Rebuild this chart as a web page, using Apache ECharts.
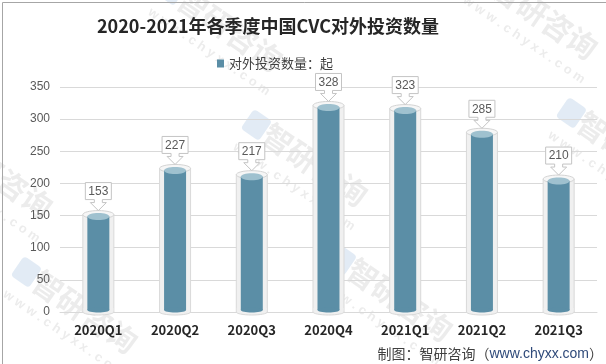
<!DOCTYPE html>
<html><head><meta charset="utf-8">
<script src="https://cdn.jsdelivr.net/npm/echarts@6/dist/echarts.min.js"></script>
<style>html,body{margin:0;padding:0;background:#fff}#c{width:606px;height:364px}</style>
</head><body><div id="c"></div>
<script>
const categories = ['2020Q1','2020Q2','2020Q3','2020Q4','2021Q1','2021Q2','2021Q3'];
const values = [153, 227, 217, 328, 323, 285, 210];
const yTicks = [0, 50, 100, 150, 200, 250, 300, 350];
const seriesName = '对外投资数量：起';
const titleText = '2020-2021年各季度中国CVC对外投资数量';

const chart = echarts.init(document.getElementById('c'), null, {renderer:'canvas'});
const BAR = '#5b8ea6', BARTOP = '#9fc1cf';
const PERSP = 0.97; // 3D perspective shortening of the cylinders

function visTop(api) {
  const top = api.coord([api.value(0), api.value(1)]);
  const base = api.coord([api.value(0), 0]);
  return [top[0], base[1] - PERSP * (base[1] - top[1]), base[1]];
}

function cyl(params, api) {
  const [x, ty, by] = visTop(api);
  const ow = 15.5, iw = 11;
  const gt = ty - 2;
  return {
    type: 'group',
    children: [
      {type:'rect', shape:{x:x-ow, y:gt, width:ow*2, height:by-gt}, style:{fill:'#f0f0f0', stroke:'#d9d9d9', lineWidth:1}},
      {type:'ellipse', shape:{cx:x, cy:by, rx:ow, ry:3}, style:{fill:'#f0f0f0', stroke:'#d9d9d9', lineWidth:1}},
      {type:'rect', shape:{x:x-ow+0.5, y:by-4, width:ow*2-1, height:4}, style:{fill:'#f0f0f0'}},
      {type:'ellipse', shape:{cx:x, cy:gt, rx:ow, ry:4}, style:{fill:'#f6f6f6', stroke:'#d4d4d4', lineWidth:1}},
      {type:'rect', shape:{x:x-iw, y:ty, width:iw*2, height:by-ty-2}, style:{fill:BAR}},
      {type:'ellipse', shape:{cx:x, cy:by-2, rx:iw, ry:2.5}, style:{fill:BAR}},
      {type:'ellipse', shape:{cx:x, cy:ty, rx:iw, ry:3.5}, style:{fill:BARTOP}}
    ]
  };
}

function callout(params, api) {
  const v = api.value(1);
  const [x, vt] = visTop(api);
  const tip = vt - 6, b = vt - 17, t = b - 17, hw = 13;
  const pts = [[x-hw,t],[x+hw,t],[x+hw,b],[x+4,b],[x+4,b+3],[x+8,b+3],[x,tip],[x-8,b+3],[x-4,b+3],[x-4,b],[x-hw,b]];
  return {
    type:'group',
    children:[
      {type:'polygon', shape:{points:pts}, style:{fill:'#fff', stroke:'#c4c4c4', lineWidth:1}},
      {type:'text', style:{text:String(v), x:x, y:(t+b)/2+0.5, align:'center', verticalAlign:'middle', fill:'#595959', font:'12px "Liberation Sans", Arial, sans-serif'}}
    ]
  };
}

const WM = 'rgba(185,185,185,0.28)', WMB = 'rgba(140,175,215,0.25)';
const wmPos = [[230,30],[545,18],[0,177],[315,165],[630,153],[85,312],[400,300]];
const wm = wmPos.map(p => ({
  type:'group', x:p[0], y:p[1], rotation:-0.6, silent:true, z:20, children:[
    {type:'rect', shape:{x:-82, y:-12, width:22, height:24, r:4}, style:{fill:WMB}},
    {type:'text', style:{text:'智研咨询', x:0, y:0, align:'center', verticalAlign:'middle', fill:WM, font:'bold 30px "Noto Sans CJK SC"'}},
    {type:'text', style:{text:'w w w . c h y x x . c o m', x:-5, y:30, align:'center', verticalAlign:'middle', fill:WM, font:'bold 13px "Liberation Sans"'}}
  ]
}));

const option = {
  animation:false,
  backgroundColor:'#fff',
  title:{text:titleText, left:263, textAlign:'center', top:12, textStyle:{fontSize:18, fontWeight:'bold', color:'#262626', fontFamily:'"Noto Sans CJK SC", sans-serif'}},
  legend:{data:[{name:seriesName, icon:'rect'}], left:212, top:52, itemWidth:7, itemHeight:8, itemGap:4, textStyle:{fontSize:13, color:'#404040', fontFamily:'"Noto Sans CJK SC", sans-serif'}},
  grid:{left:60, right:9, top:87, bottom:52, containLabel:false},
  xAxis:{type:'category', data:categories, axisTick:{show:false}, axisLine:{lineStyle:{color:'#d9d9d9'}},
    axisLabel:{margin:12, fontSize:13, fontWeight:'bold', color:'#262626', fontFamily:'"Noto Sans CJK SC", sans-serif'}},
  yAxis:{type:'value', min:yTicks[0], max:yTicks[yTicks.length-1], interval:50, axisLine:{show:false}, axisTick:{show:false},
    splitLine:{lineStyle:{color:'#d9d9d9'}}, axisLabel:{margin:10, fontSize:12, color:'#595959', fontFamily:'"Liberation Sans", Arial, sans-serif'}},
  series:[
    {name:seriesName, type:'custom', renderItem:cyl, data:categories.map((c,i)=>[i, values[i]]), itemStyle:{color:BAR}, z:2},
    {name:'callout', type:'custom', renderItem:callout, data:categories.map((c,i)=>[i, values[i]]), z:3, silent:true}
  ],
  graphic:[
    ...wm,
    {type:'text', right:3, bottom:3, z:10, style:{rich:{a:{fontSize:14, fill:'#404040', fontFamily:'"Noto Sans CJK SC", sans-serif'}, b:{fontSize:14, fill:'#2f4a7a', fontFamily:'"Liberation Sans", Arial, sans-serif'}}, text:'{a|制图：智研咨询（}{b|www.chyxx.com}{a|）}'}},
    {type:'rect', left:0, top:0, z:30, silent:true, shape:{x:0.5, y:0.5, width:605, height:363}, style:{fill:'none', stroke:'#a6a6a6', lineWidth:1}}
  ]
};
chart.setOption(option);
</script></body></html>
